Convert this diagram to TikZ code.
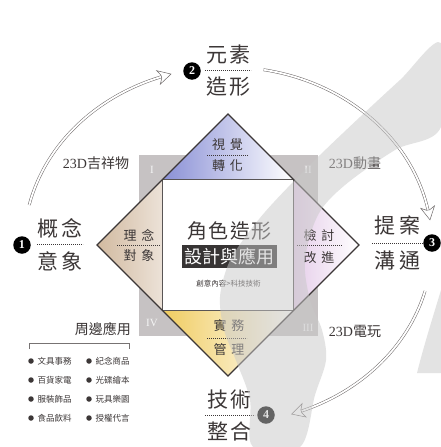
\documentclass[tikz,border=0pt]{standalone}
\usepackage{fontspec}
\setmainfont{Liberation Serif}
\newfontfamily\cjk{Noto Sans CJK TC}
\usetikzlibrary{decorations.markings,calc}
\definecolor{ink}{RGB}{60,55,55}
\definecolor{frame}{RGB}{198,194,195}
\definecolor{topblue}{RGB}{138,144,214}
\definecolor{tan}{RGB}{210,186,160}
\definecolor{tanlight}{RGB}{236,226,216}
\definecolor{pinkish}{RGB}{230,206,234}
\definecolor{gold}{RGB}{240,204,96}
\definecolor{arrowgray}{RGB}{110,105,105}
\definecolor{boxfill}{RGB}{55,52,52}
\definecolor{strokegray}{RGB}{200,200,200}
\tikzset{
  bigtxt/.style={font=\cjk\fontsize{21}{21}\selectfont, text=ink, inner sep=0pt},
  midtxt/.style={font=\cjk\fontsize{13}{13}\selectfont, text=ink, inner sep=0pt},
  lbl/.style={font=\fontsize{14}{14}\selectfont, text=ink, inner sep=0pt},
  listtxt/.style={font=\cjk\fontsize{8.5}{8.5}\selectfont, text=ink, inner sep=0pt, anchor=west},
  bullet/.style={circle, fill=ink, inner sep=0pt, minimum size=5.5pt},
  numcirc/.style={circle, fill=black, text=white, inner sep=0pt, minimum size=17.5pt, font=\bfseries\fontsize{12}{12}\selectfont},
  roman/.style={text=white!92!gray, font=\fontsize{11}{11}\selectfont, inner sep=0pt},
  sepline/.style={ink, line width=0.7pt, dash pattern=on 0.9pt off 1.1pt},
  diamondline/.style={draw=ink, line width=1.3pt, line join=miter},
  sqline/.style={draw=ink!85, line width=0.9pt},
  shaft/.style={draw=arrowgray, line width=0.5pt, double=white, double distance=1.8pt},
  headmark/.style={decorate, decoration={markings, mark=at position 0.999 with {
      \filldraw[fill=white, draw=arrowgray, line width=0.5pt] (3,0) -- (-10,7) -- (-7,1.5) -- (-7,-1.5) -- (-10,-7) -- cycle;}}},
}
\begin{document}
\begin{tikzpicture}[x=1pt,y=1pt]
\useasboundingbox (0,-447) rectangle (441,0);
\fill[white] (0,-447) rectangle (441,0);

% gray frame square
\fill[frame] (139,-155) rectangle (318,-336);

% diamond and inner square coordinates
\coordinate (C) at (228,-245);
\coordinate (T) at (228,-114);
\coordinate (L) at (97,-245);
\coordinate (R) at (359,-245);
\coordinate (B) at (228,-376);
\coordinate (Q1) at (162.5,-179.5);
\coordinate (Q2) at (293.5,-179.5);
\coordinate (Q3) at (293.5,-310.5);
\coordinate (Q4) at (162.5,-310.5);

% triangles
\shade[left color=topblue, right color=white] (T) -- (Q2) -- (Q1) -- cycle;
\shade[left color=tan, right color=tanlight] (L) -- (Q1) -- (Q4) -- cycle;
\shade[left color=pinkish, right color=white] (R) -- (Q2) -- (Q3) -- cycle;
\shade[left color=gold, right color=white] (B) -- (Q4) -- (Q3) -- cycle;
\fill[white] (Q1) rectangle (Q3);
\draw[sqline] (Q1) rectangle (Q3);
\draw[diamondline] (T) -- (R) -- (B) -- (L) -- cycle;

% roman numerals
\node[roman] (r1) at (152,-170) {I};
\node[roman] (r2) at (308,-170) {II};
\node[roman] (r3) at (308,-328) {III};
\node[roman] (r4) at (152,-323) {IV};

% triangle texts
\node[midtxt] (v1) at (227.5,-145) {視\kern5pt覺};
\node[midtxt] (v2) at (227.5,-165.5) {轉\kern5pt化};
\draw[sepline] (207,-155) -- (248,-155);
\node[midtxt] (p1) at (139,-235) {理\kern5pt念};
\node[midtxt] (p2) at (139,-255.5) {對\kern5pt象};
\draw[sepline] (117,-245) -- (160,-245);
\node[midtxt] (k1) at (319,-235.5) {檢\kern5pt討};
\node[midtxt] (k2) at (319,-257.5) {改\kern5pt進};
\draw[sepline] (297,-245) -- (342,-245);
\node[midtxt] (s1) at (229,-325.5) {實\kern5pt務};
\node[midtxt] (s2) at (229,-349.5) {管\kern5pt理};
\draw[sepline] (207,-338) -- (247,-338);

% center
\node[font=\cjk\fontsize{20}{20}\selectfont, text=ink, inner sep=0pt] (title) at (229.5,-231) {角\kern1.5pt色\kern1.5pt造\kern1.5pt形};
\node[fill=boxfill, text=white, font=\cjk\fontsize{18}{18}\selectfont, inner xsep=2.5pt, minimum height=23pt] (box) at (229.5,-256.5) {設計與應用};
\node[font=\cjk\fontsize{7.5}{7.5}\selectfont, text=ink, inner sep=0pt] (sub) at (228.5,-283.5) {創意內容>科技技術};

% outer nodes
\node[bigtxt] (n1a) at (60,-228) {概\kern4pt念};
\node[bigtxt] (n1b) at (60,-261) {意\kern4pt象};
\draw[sepline] (37,-244) -- (83,-244);
\node[numcirc] (c1) at (22,-245) {1};

\node[bigtxt] (n2a) at (228.5,-54) {元\kern2pt素};
\node[bigtxt] (n2b) at (228.5,-87) {造\kern2pt形};
\draw[sepline] (205,-70) -- (251,-70);
\node[numcirc] (c2) at (192,-71) {2};

\node[bigtxt] (n3a) at (397.5,-225) {提\kern4pt案};
\node[bigtxt] (n3b) at (397.5,-261) {溝\kern4pt通};
\draw[sepline] (372,-243) -- (423,-243);
\node[numcirc] (c3) at (432,-243) {3};

\node[bigtxt] (n4a) at (229.5,-400) {技\kern2pt術};
\node[bigtxt] (n4b) at (229.5,-431) {整\kern2pt合};
\draw[sepline] (205,-415) -- (255,-415);
\node[numcirc] (c4) at (266,-415) {4};

% side labels
\node[lbl] (l1) at (96,-163) {23D{\cjk 吉祥物}};
\node[lbl] (l2) at (355,-163) {23D{\cjk 動畫}};
\node[lbl] (l3) at (355,-331) {23D{\cjk 電玩}};
\node[font=\cjk\fontsize{14}{14}\selectfont, text=ink, inner sep=0pt, anchor=east] (l4) at (131,-329) {周邊應用};
\draw[ink!70, line width=0.6pt] (29,-349) -- (29,-343) -- (129,-343) -- (129,-349);

% list
\foreach \yy/\ta/\tb [count=\i] in {361/文具事務/紀念商品, 380/百貨家電/光碟繪本, 399/服裝飾品/玩具樂園, 418/食品飲料/授權代言}{
  \node[bullet] (ba\i) at (31,-\yy) {};
  \node[listtxt] (ta\i) at (37.5,-\yy) {\ta};
  \node[bullet] (bb\i) at (89,-\yy) {};
  \node[listtxt] (tb\i) at (95.5,-\yy) {\tb};
}

% arrows along ellipse around C
\path (C) ++(167:204 and 178) coordinate (a1s);
\path (C) ++(80:204 and 178) coordinate (a2s);
\path (C) ++(-15:204 and 178) coordinate (a3s);
\draw[shaft] (a1s) arc[start angle=167, end angle=107, x radius=204pt, y radius=178pt];
\path[headmark] (a1s) arc[start angle=167, end angle=107, x radius=204pt, y radius=178pt];
\draw[shaft] (a2s) arc[start angle=80, end angle=9, x radius=204pt, y radius=178pt];
\path[headmark] (a2s) arc[start angle=80, end angle=9, x radius=204pt, y radius=178pt];
\draw[shaft] (a3s) arc[start angle=-15, end angle=-71, x radius=204pt, y radius=178pt];
\path[headmark] (a3s) arc[start angle=-15, end angle=-71, x radius=204pt, y radius=178pt];

% background brush strokes (overlay)
\fill[strokegray, opacity=0.5] plot[smooth cycle, tension=0.55] coordinates {
  (441,-43) (400,-80) (360,-117) (320,-155) (293,-182) (265,-212) (243,-240) (228,-265) (220,-297) (224,-330) (237,-363) (250,-400) (253,-447)
  (300,-447) (315,-395) (326,-360) (322,-330) (310,-300) (305,-260) (318,-215) (345,-185) (395,-150) (441,-127)};
\fill[strokegray, opacity=0.5] (441,-290) .. controls (432,-320) and (424,-345) .. (417,-373) -- (441,-373) -- cycle;
\end{tikzpicture}
\end{document}
